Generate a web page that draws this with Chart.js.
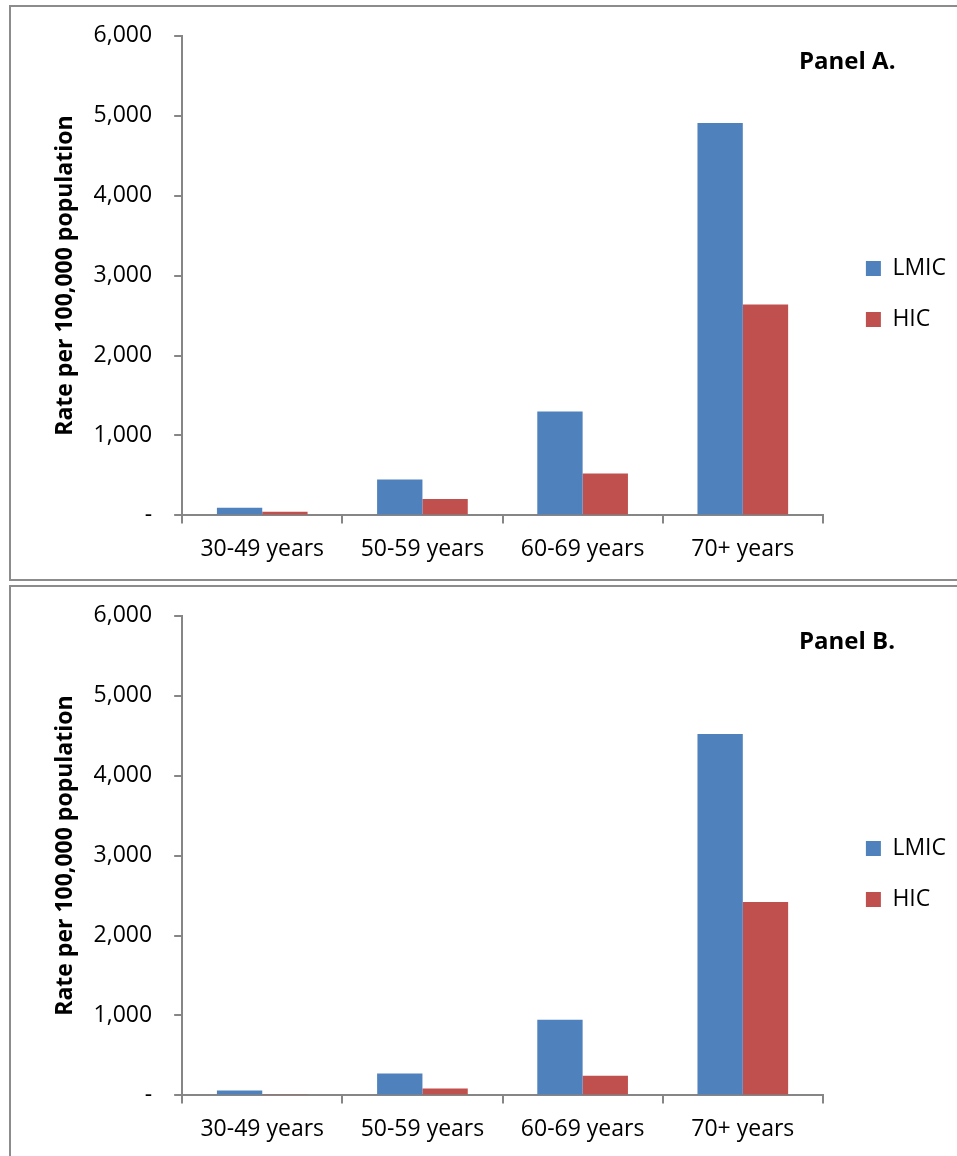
<!DOCTYPE html>
<html>
<head>
<meta charset="utf-8">
<script src="https://cdn.jsdelivr.net/npm/chart.js@4.4.1/dist/chart.umd.min.js"></script>
<style>
  html, body { margin: 0; padding: 0; background: #fff; overflow: hidden; }
  body { width: 957px; height: 1156px; position: relative; }
  .panel {
    position: absolute;
    left: 9px;
    width: 960px;
    height: 572px;
    border: 2px solid #8c8c8c;
    background: #fff;
  }
  .panel canvas { position: absolute; left: 0; top: -7px; }
  .panelLabel {
    position: absolute;
    font-family: "Open Sans", sans-serif;
    font-weight: bold;
    font-size: 24px;
    color: #000;
    left: 788px;
  }
</style>
</head>
<body>
<div class="panel" id="panelA" style="top:5px;">
  <canvas id="chartA"></canvas>
  <div class="panelLabel" style="top:36px;">Panel A.</div>
</div>
<div class="panel" id="panelB" style="top:585px;">
  <canvas id="chartB"></canvas>
  <div class="panelLabel" style="top:36px;">Panel B.</div>
</div>
<script>
const categories = ["30-49 years", "50-59 years", "60-69 years", "70+ years"];
const seriesNames = ["LMIC", "HIC"];
// Panel A
const panelA_LMIC = [95, 450, 1300, 4910];
const panelA_HIC = [45, 205, 525, 2640];
// Panel B
const panelB_LMIC = [60, 275, 945, 4520];
const panelB_HIC = [15, 85, 245, 2420];
const yTicks = [0, 1000, 2000, 3000, 4000, 5000, 6000];

const blue = "#4f81bd";
const red = "#c0504d";
const axisGrey = "#868686";
const legendGap = 43; // distance from plot edge to legend square
const legendDrop = 3;

// push the legend to the right of the plot area
const legendShift = {
  id: "legendShift",
  afterLayout(chart) {
    const lg = chart.legend;
    const pad = lg.options.labels.padding;
    const w = lg.width;
    lg.left = chart.chartArea.right + legendGap - pad;
    lg.right = lg.left + w;
    lg.top += legendDrop;
    lg.bottom += legendDrop;
  },
};

function makeChart(id, lmic, hic) {
  const canvas = document.getElementById(id);
  canvas.width = 960;
  canvas.height = 580;
  canvas.style.width = "960px";
  canvas.style.height = "580px";
  return new Chart(canvas.getContext("2d"), {
    type: "bar",
    data: {
      labels: categories,
      datasets: [
        { label: seriesNames[0], data: lmic, backgroundColor: blue, borderWidth: 0 },
        { label: seriesNames[1], data: hic, backgroundColor: red, borderWidth: 0 },
      ],
    },
    options: {
      responsive: false,
      animation: false,
      devicePixelRatio: 1,
      categoryPercentage: 0.566,
      barPercentage: 1,
      layout: { padding: { top: 7, bottom: 5, left: 41, right: 30 } },
      scales: {
        x: {
          grid: {
            drawOnChartArea: false,
            drawTicks: true,
            tickLength: 8,
            color: axisGrey,
            lineWidth: 2,
          },
          border: { color: axisGrey, width: 2 },
          ticks: {
            color: "#000",
            padding: 12,
            font: { family: "Open Sans", size: 23 },
            maxRotation: 0,
          },
        },
        y: {
          min: 0,
          max: 6000,
          afterBuildTicks(axis) {
            axis.ticks = yTicks.map((v) => ({ value: v }));
          },
          grid: {
            drawOnChartArea: false,
            drawTicks: true,
            tickLength: 8,
            color: axisGrey,
            lineWidth: 2,
          },
          border: { color: axisGrey, width: 2 },
          ticks: {
            color: "#000",
            padding: 22,
            font: { family: "Open Sans", size: 23 },
            callback: (v) => (v === 0 ? "-" : v.toLocaleString("en-US")),
          },
          title: {
            display: true,
            text: "Rate per 100,000 population",
            color: "#000",
            font: { family: "Open Sans", size: 23, weight: "bold" },
            padding: { top: 0, bottom: -8 },
          },
        },
      },
      plugins: {
        legend: {
          position: "right",
          labels: {
            boxWidth: 15,
            boxHeight: 15,
            padding: 28,
            color: "#000",
            font: { family: "Open Sans", size: 23 },
          },
        },
        tooltip: { enabled: false },
      },
    },
    plugins: [legendShift],
  });
}

window.onload = function () {
  makeChart("chartA", panelA_LMIC, panelA_HIC);
  makeChart("chartB", panelB_LMIC, panelB_HIC);
};
</script>
</body>
</html>
